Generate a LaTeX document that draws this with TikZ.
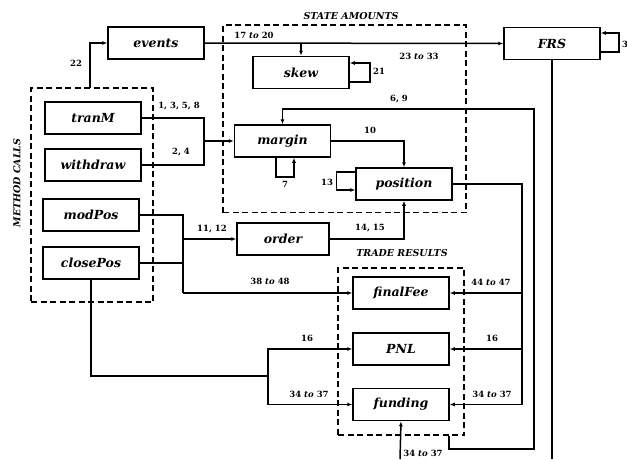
\documentclass[tikz,border=0pt]{standalone}
\usepackage{fontspec}
\setmainfont{DejaVu Serif}
\usetikzlibrary{arrows.meta,calc}
\newcommand\myboxfont{\fontsize{12.5}{15}\selectfont\bfseries\itshape}
\newcommand\mylabfont{\fontsize{8.5}{10}\selectfont\bfseries}
\newcommand\mytitlefont{\fontsize{9.5}{12}\selectfont\bfseries\itshape}
\newcommand\tto{\textit{to}}
\begin{document}
\begin{tikzpicture}[x=1pt,y=-1pt,
  box/.style={draw, line width=1.5pt, minimum width=96pt, minimum height=32pt, inner sep=0pt, font=\myboxfont},
  grp/.style={draw, line width=1.5pt, dash pattern=on 6pt off 3.5pt, inner sep=0pt},
  conn/.style={line width=1.5pt},
  arr/.style={conn, -{Latex[length=5pt,width=4pt]}},
  lab/.style={font=\mylabfont, inner sep=1pt},
  ttl/.style={font=\mytitlefont, inner sep=1pt}]
\useasboundingbox[fill=white] (0,0) rectangle (627,459);

% groups
\node[grp, minimum width=122pt, minimum height=214pt] (mc) at (92,195) {};
\node[grp, minimum width=243pt, minimum height=187.5pt] (sa) at (344.5,118.75) {};
\node[grp, minimum width=126pt, minimum height=167pt] (tr) at (401,351.5) {};
\node[ttl, rotate=90] (mctitle) at (17,183) {METHOD CALLS};
\node[ttl] (satitle) at (351,16) {STATE AMOUNTS};
\node[ttl] (trtitle) at (402,253) {TRADE RESULTS};

% boxes
\node[box] (events) at (156,43) {events};
\node[box] (skew) at (301,72.5) {skew};
\node[box] (FRS) at (552,43.5) {FRS};
\node[box] (tranM) at (93,118) {tranM};
\node[box] (withdraw) at (93,165) {withdraw};
\node[box] (margin) at (282.5,141) {margin};
\node[box] (position) at (404,184) {position};
\node[box] (modPos) at (91,215) {modPos};
\node[box] (closePos) at (91,263) {closePos};
\node[box, minimum width=92pt] (order) at (283,239) {order};
\node[box] (finalFee) at (401,293) {finalFee};
\node[box] (PNL) at (401,349) {PNL};
\node[box] (funding) at (401,404.5) {funding};

% coordinates
\coordinate (c22) at (90,88);
\coordinate (j1) at (204,141);
\coordinate (k69) at (534,109);
\coordinate (j2) at (522,404.5);
\coordinate (j3) at (183,293);
\coordinate (j4) at (268,376);
\coordinate (frsend) at (552,459);
\coordinate (fbot) at (400,459);

% connectors
\draw[arr] (c22) |- (events.west);
\node[lab] (l22) at (76,63) {22};

\draw[arr] (events.east) -- (FRS.west);
\draw[arr] (events.east -| skew.north) -- (skew.north);
\node[lab] (l1720) at (254,35) {17 \tto{} 20};
\node[lab] (l2333) at (419,56) {23 \tto{} 33};

\draw[arr] ([yshift=-8.5pt]FRS.east) -- ++(18,0) -- ++(0,-19) -- ([yshift=10.5pt]FRS.east);
\node[lab, anchor=west] (l3) at (621,44) {3};
\draw[conn] (FRS.south) -- (frsend);

\draw[arr] ([yshift=-9.5pt]skew.east) -- ++(20,0) -- ++(0,-19) -- ([yshift=9.5pt]skew.east);
\node[lab] (l21) at (379,71) {21};

\draw[conn] (tranM.east) -| (j1);
\draw[conn] (withdraw.east) -| (j1);
\draw[arr] (j1) -- (margin.west);
\node[lab] (l1358) at (179,106) {1, 3, 5, 8};
\node[lab] (l24) at (181,152) {2, 4};

\draw[arr] ([xshift=-6.5pt]margin.south) -- ++(0,19) -- ++(18,0) -- ([xshift=11.5pt]margin.south);
\node[lab] (l7) at (285,184) {7};

\draw[arr] (margin.east) -| (position.north);
\node[lab] (l10) at (370,130) {10};

\draw[arr] ([yshift=12pt]position.west) -- ++(-19,0) -- ++(0,18) -- ([yshift=-6pt]position.west);
\node[lab] (l13) at (327,182) {13};

\draw[conn] (position.east) -| (j2);
\draw[arr] (finalFee.east -| j2) -- (finalFee.east);
\draw[arr] (PNL.east -| j2) -- (PNL.east);
\draw[arr] (j2) -- (funding.east);
\node[lab] (l4447) at (491,282) {44 \tto{} 47};
\node[lab] (l16r) at (492,338) {16};
\node[lab] (l3437r) at (492,394) {34 \tto{} 37};

\draw[arr] ([xshift=-16pt]tr.south east) -- ++(0,13) -| (k69) -| (margin.north);
\node[lab] (l69) at (399,99) {6, 9};

\draw[arr] (order.east) -| (position.south);
\node[lab] (l1415) at (370,228) {14, 15};

\draw[conn] (modPos.east) -| (j3);
\draw[conn] (closePos.east) -- (closePos.east -| j3);
\draw[arr] (order.west -| j3) -- (order.west);
\draw[arr] (j3) -- (finalFee.west);
\node[lab] (l1112) at (212,229) {11, 12};
\node[lab] (l3848) at (270,281) {38 \tto{} 48};

\draw[conn] (closePos.south) |- (j4);
\draw[arr] (j4) |- (PNL.west);
\draw[arr] (j4) |- (funding.west);
\node[lab] (l16l) at (307,338) {16};
\node[lab] (l3437l) at (309,394) {34 \tto{} 37};

\draw[arr] (fbot) -- (funding.south);
\node[lab] (l3437b) at (423,453) {34 \tto{} 37};
\end{tikzpicture}
\end{document}
